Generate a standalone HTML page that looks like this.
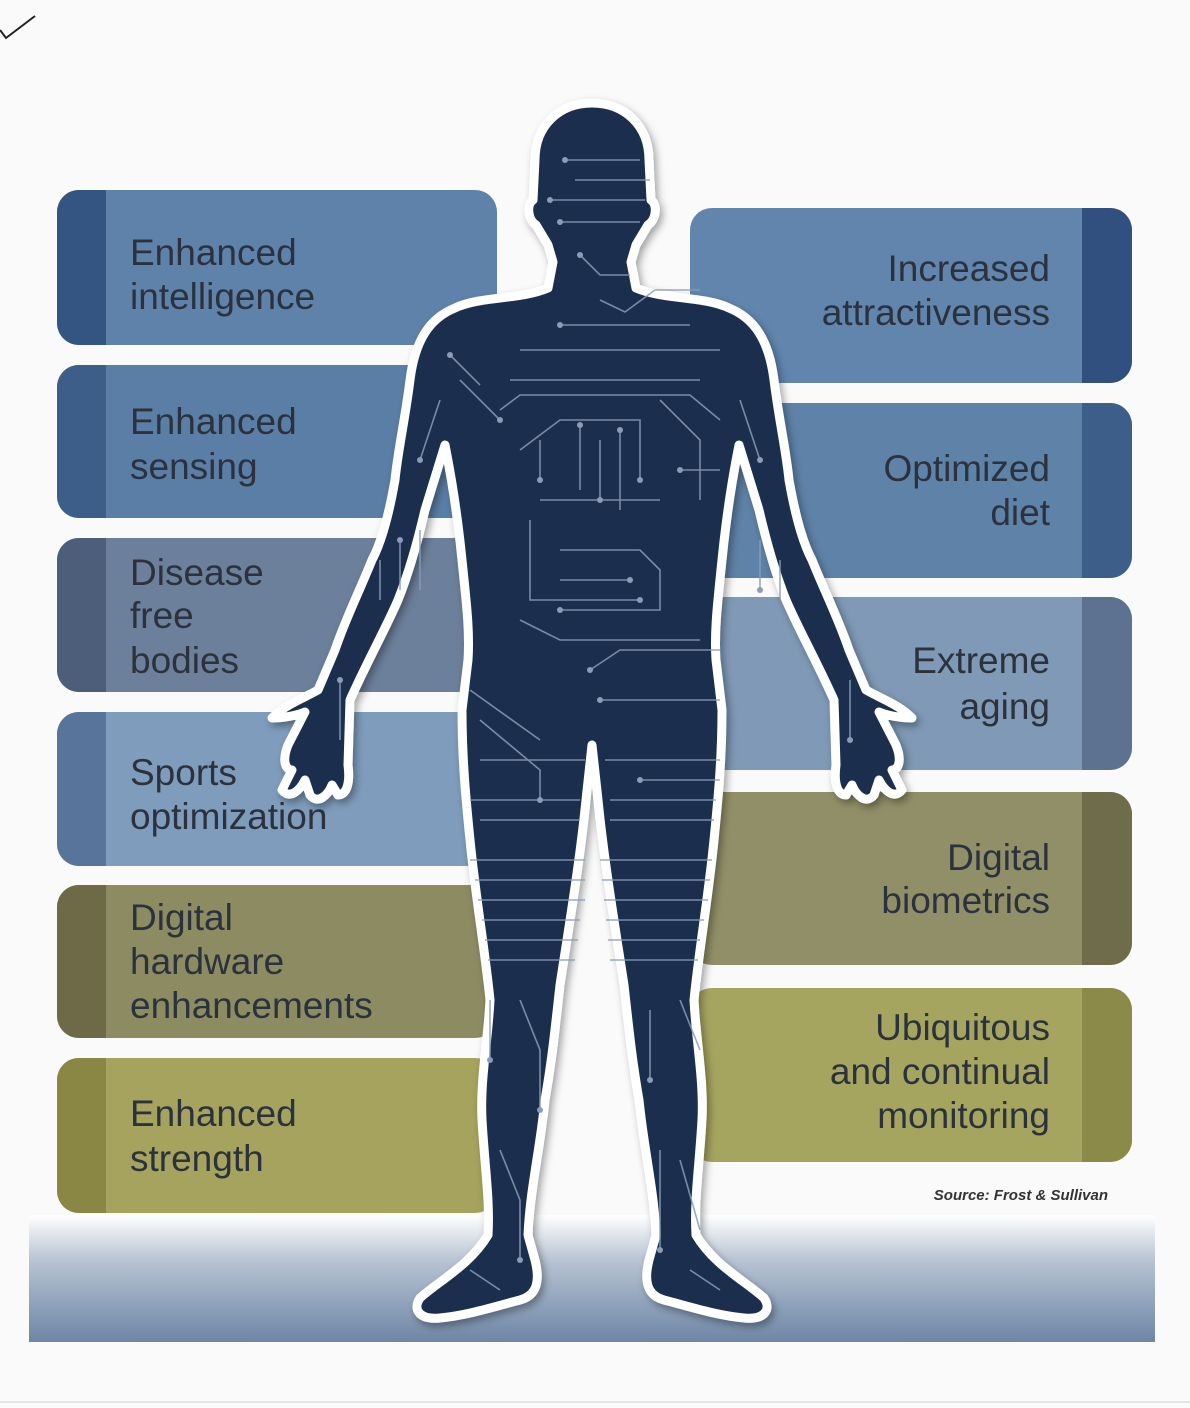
<!DOCTYPE html>
<html><head><meta charset="utf-8"><style>
html,body{margin:0;padding:0;background:#fafafa;}
svg{display:block}
text{font-family:"Liberation Sans",sans-serif;fill:#2b323d;font-size:37px;}
</style></head><body>
<svg width="1190" height="1408" viewBox="0 0 1190 1408" xmlns="http://www.w3.org/2000/svg">
<defs>
<linearGradient id="gnd" x1="0" y1="0" x2="0" y2="1">
<stop offset="0" stop-color="#ffffff"/><stop offset="0.35" stop-color="#b9c4d4"/><stop offset="1" stop-color="#6d86a6"/>
</linearGradient>
<filter id="sh" x="-10%" y="-10%" width="120%" height="120%"><feDropShadow dx="3" dy="4" stdDeviation="4" flood-color="#000" flood-opacity="0.35"/></filter>
</defs>
<rect width="1190" height="1408" fill="#fafafa"/>
<path d="M0 30 L6 38 L35 16" stroke="#222" stroke-width="2" fill="none"/>
<rect x="29" y="1215" width="1126" height="127" fill="url(#gnd)"/>
<line x1="0" y1="1402" x2="1190" y2="1402" stroke="#e6e6e6" stroke-width="2"/>

<g>
<rect x="57" y="190" width="440" height="155" rx="22" fill="#5f82ab"/><path d="M79 190 H106 V345 H79 A22 22 0 0 1 57 323 V212 A22 22 0 0 1 79 190Z" fill="#345482"/>
<rect x="57" y="365" width="440" height="153" rx="22" fill="#5b7ea6"/><path d="M79 365 H106 V518 H79 A22 22 0 0 1 57 496 V387 A22 22 0 0 1 79 365Z" fill="#3d5e88"/>
<rect x="57" y="538" width="440" height="154" rx="22" fill="#6c7f9b"/><path d="M79 538 H106 V692 H79 A22 22 0 0 1 57 670 V560 A22 22 0 0 1 79 538Z" fill="#4c5e7a"/>
<rect x="57" y="712" width="440" height="154" rx="22" fill="#7f9cbc"/><path d="M79 712 H106 V866 H79 A22 22 0 0 1 57 844 V734 A22 22 0 0 1 79 712Z" fill="#58749a"/>
<rect x="57" y="885" width="440" height="153" rx="22" fill="#8d8b62"/><path d="M79 885 H106 V1038 H79 A22 22 0 0 1 57 1016 V907 A22 22 0 0 1 79 885Z" fill="#6e6a48"/>
<rect x="57" y="1058" width="440" height="155" rx="22" fill="#a5a35d"/><path d="M79 1058 H106 V1213 H79 A22 22 0 0 1 57 1191 V1080 A22 22 0 0 1 79 1058Z" fill="#8a8745"/>
</g>
<g>
<rect x="690" y="208" width="442" height="175" rx="22" fill="#6185ad"/><path d="M1110 208 H1082 V383 H1110 A22 22 0 0 0 1132 361 V230 A22 22 0 0 0 1110 208Z" fill="#32507f"/>
<rect x="690" y="403" width="442" height="175" rx="22" fill="#5f82a8"/><path d="M1110 403 H1082 V578 H1110 A22 22 0 0 0 1132 556 V425 A22 22 0 0 0 1110 403Z" fill="#3c5e88"/>
<rect x="690" y="597" width="442" height="173" rx="22" fill="#7f99b6"/><path d="M1110 597 H1082 V770 H1110 A22 22 0 0 0 1132 748 V619 A22 22 0 0 0 1110 597Z" fill="#5c7290"/>
<rect x="690" y="792" width="442" height="173" rx="22" fill="#918f67"/><path d="M1110 792 H1082 V965 H1110 A22 22 0 0 0 1132 943 V814 A22 22 0 0 0 1110 792Z" fill="#6f6c4c"/>
<rect x="690" y="988" width="442" height="174" rx="22" fill="#a6a55f"/><path d="M1110 988 H1082 V1162 H1110 A22 22 0 0 0 1132 1140 V1010 A22 22 0 0 0 1110 988Z" fill="#8b8a48"/>
</g>

<text x="130" y="265">Enhanced</text><text x="130" y="309">intelligence</text>
<text x="130" y="434">Enhanced</text><text x="130" y="479">sensing</text>
<text x="130" y="585">Disease</text><text x="130" y="628">free</text><text x="130" y="673">bodies</text>
<text x="130" y="785">Sports</text><text x="130" y="829">optimization</text>
<text x="130" y="930">Digital</text><text x="130" y="974">hardware</text><text x="130" y="1018">enhancements</text>
<text x="130" y="1126">Enhanced</text><text x="130" y="1171">strength</text>
<g text-anchor="end">
<text x="1050" y="281">Increased</text><text x="1050" y="325">attractiveness</text>
<text x="1050" y="481">Optimized</text><text x="1050" y="525">diet</text>
<text x="1050" y="673">Extreme</text><text x="1050" y="719">aging</text>
<text x="1050" y="870">Digital</text><text x="1050" y="913">biometrics</text>
<text x="1050" y="1040">Ubiquitous</text><text x="1050" y="1084">and continual</text><text x="1050" y="1128">monitoring</text>
<text x="1108" y="1200" style="font-size:15px;font-style:italic;font-weight:bold;fill:#333">Source: Frost &amp; Sullivan</text>
</g>

<g filter="url(#sh)">
<path d="M592 103 C560 103 535 125 535 160 L533 200 C526 205 528 220 536 225 L548 245 L553 262 L548 288 C520 300 480 296 455 308 C430 318 415 340 410 380 C405 420 398 450 395 480 C388 520 380 545 372 560 C360 590 345 620 335 650 L318 690 C300 700 285 705 272 718 C285 718 298 715 305 712 L288 745 C282 760 285 770 292 770 L282 790 C290 800 300 790 305 780 L310 795 C318 805 328 795 332 785 L338 795 C348 795 350 780 348 765 L350 700 C368 660 385 630 398 600 C410 570 418 540 425 510 L445 445 C452 480 458 520 462 560 C466 600 470 630 468 660 L462 710 C462 760 466 800 470 840 C476 900 485 950 490 1000 C488 1040 480 1080 482 1120 C485 1170 490 1200 488 1235 C470 1265 440 1280 420 1298 C412 1310 420 1320 440 1318 C470 1315 500 1305 520 1300 C538 1295 540 1280 535 1260 L528 1235 C530 1190 540 1150 545 1100 C552 1060 555 1030 560 985 C570 920 580 860 586 800 L592 745 L598 800 C604 860 614 920 624 985 C629 1030 632 1060 639 1100 C644 1150 654 1190 656 1235 L649 1260 C644 1280 646 1295 664 1300 C684 1305 714 1315 744 1318 C764 1320 772 1310 764 1298 C744 1280 714 1265 696 1235 C694 1200 699 1170 702 1120 C704 1080 696 1040 694 1000 C699 950 708 900 714 840 C718 800 722 760 722 710 L716 660 C714 630 718 600 722 560 C726 520 732 480 739 445 L759 510 C766 540 774 570 786 600 C799 630 816 660 834 700 L836 765 C834 780 836 795 846 795 L852 785 C856 795 866 805 874 795 L879 780 C884 790 894 800 902 790 L892 770 C899 770 902 760 896 745 L879 712 C886 715 899 718 912 718 C899 705 884 700 866 690 L849 650 C839 620 824 590 812 560 C804 545 796 520 789 480 C786 450 779 420 774 380 C769 340 754 318 729 308 C704 296 664 300 636 288 L631 262 L636 245 L648 225 C656 220 658 205 651 200 L649 160 C649 125 624 103 592 103Z" fill="#1c2e4d" stroke="#ffffff" stroke-width="9" stroke-linejoin="round"/>
</g>
<g stroke="#8a9cb8" stroke-width="1.6" fill="none" opacity="0.85">
<path d="M565 160 H640 M575 180 H650 M550 200 H645 M560 222 H640 M580 255 L600 275 H630 M560 325 H690 M600 300 L625 312 L655 290 H700"/>
<path d="M450 355 L480 385 M460 380 L500 420 M520 350 H720 M510 380 H700 M500 410 L520 395 H690 L720 420 M540 440 V480 M520 450 L560 420 H640 V480 M580 425 V490 M600 440 V500 M620 430 V510 M660 400 L700 440 V500 M680 470 H720"/>
<path d="M540 500 H660 M530 520 V600 H640 M560 550 H640 L660 570 V610 H560 M560 580 H630 M520 620 L560 640 H700 M590 670 L620 650 H720 M600 700 H720 M470 690 L540 740 M480 720 L540 770 V800"/>
<path d="M400 540 V590 M420 530 V590 M380 560 V600 M760 540 V590 M780 560 V600 M340 680 V740 M850 680 V740 M440 400 L420 460 M740 400 L760 460"/>
<path d="M470 860 H585 M475 880 H585 M478 900 H585 M482 920 H580 M485 940 H578 M488 960 H575 M600 860 H712 M602 880 H710 M604 900 H708 M606 920 H704 M608 940 H700 M610 960 H698 M490 1000 V1060 M520 1000 L540 1050 V1110 M650 1010 V1080 M680 1000 L700 1050 M500 1150 L520 1200 V1260 M660 1150 V1250 M680 1160 L700 1230 M470 1270 L500 1290 M690 1270 L720 1290"/>
<path d="M470 800 H580 M480 820 H580 M610 800 H716 M610 820 H714 M480 760 H585 M605 760 H720 M640 780 H720"/>
</g>
<g fill="#8a9cb8">
<circle cx="565" cy="160" r="3"/><circle cx="550" cy="200" r="3"/><circle cx="560" cy="222" r="3"/><circle cx="580" cy="255" r="3"/><circle cx="560" cy="325" r="3"/><circle cx="450" cy="355" r="3"/><circle cx="500" cy="420" r="3"/><circle cx="540" cy="480" r="3"/><circle cx="580" cy="425" r="3"/><circle cx="600" cy="500" r="3"/><circle cx="620" cy="430" r="3"/><circle cx="640" cy="480" r="3"/><circle cx="680" cy="470" r="3"/><circle cx="640" cy="600" r="3"/><circle cx="560" cy="610" r="3"/><circle cx="630" cy="580" r="3"/><circle cx="590" cy="670" r="3"/><circle cx="600" cy="700" r="3"/><circle cx="540" cy="800" r="3"/><circle cx="400" cy="540" r="3"/><circle cx="760" cy="590" r="3"/><circle cx="340" cy="680" r="3"/><circle cx="850" cy="740" r="3"/><circle cx="490" cy="1060" r="3"/><circle cx="540" cy="1110" r="3"/><circle cx="650" cy="1080" r="3"/><circle cx="520" cy="1260" r="3"/><circle cx="660" cy="1250" r="3"/><circle cx="640" cy="780" r="3"/><circle cx="420" cy="460" r="3"/><circle cx="760" cy="460" r="3"/>
</g>
</svg>
</body></html>
